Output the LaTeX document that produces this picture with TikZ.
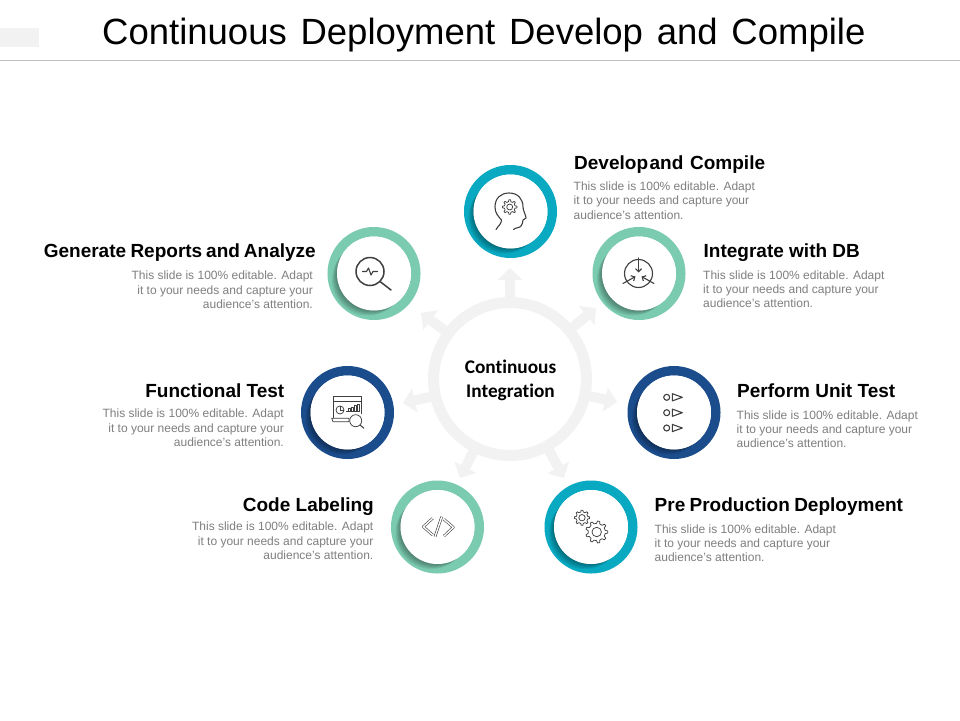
\documentclass[tikz,border=0pt]{standalone}
\usepackage{fontspec}
\setmainfont{Liberation Sans}
\newfontfamily\carlito[Ligatures={NoCommon,NoContextual}]{Carlito}
\usetikzlibrary{arrows.meta,calc}
\definecolor{teal}{HTML}{08A9C1}
\definecolor{mint}{HTML}{7BCBB0}
\definecolor{navy}{HTML}{1B4C8C}
\definecolor{bodygray}{HTML}{7F7F7F}
\definecolor{ringgray}{HTML}{F2F2F2}
\definecolor{icon}{HTML}{3F3F3F}
\tikzset{
  x=1pt,y=-1pt,
  heading/.style={font=\fontsize{19}{22}\selectfont\bfseries,text=black,inner sep=0pt,anchor=base west},
  headingr/.style={heading,anchor=base east},
  bodyl/.style={font=\fontsize{12}{14.1}\selectfont,text=bodygray,inner sep=0pt,anchor=north west,align=left},
  bodyr/.style={font=\fontsize{12}{14.1}\selectfont,text=bodygray,inner sep=0pt,anchor=north east,align=right},
  disc/.style={circle,fill=white,minimum size=74pt,inner sep=0pt},
  hoop/.style={circle,line width=9.5pt,minimum size=83.5pt,inner sep=0pt,outer sep=0pt},
  flow/.style={draw=ringgray,line width=10pt,shorten <=76pt,-{Triangle[width=24pt,length=12pt]}},
  ico/.style={draw=icon,line width=1.1pt,line cap=round,line join=round},
  icothin/.style={draw=icon,line width=.75pt,line join=round},
}
\newcommand{\stepring}[4]{%
  \node[hoop,draw=#4] (#1h) at (#2,#3) {};
  \begin{scope}
    \clip (#2,#3) circle (46.5pt);
    \foreach \d in {1,...,6}
      \fill[black,opacity=.07] ($(#2,#3)+(-\d,\d)$) circle (36pt);
  \end{scope}
  \node[disc] (#1) at (#2,#3) {};
}
\newcommand{\gearicon}[5]{% x y outer inner teeth
  \draw[icothin] ($(#1,#2)+(270/#5*.95:#4)$)
    \foreach \k [evaluate=\k as \a using \k*360/#5] in {1,...,#5} {
     -- ($(#1,#2)+(\a-90/#5*.55:#3)$) -- ($(#1,#2)+(\a+90/#5*.55:#3)$)
     -- ($(#1,#2)+(\a+90/#5*1.15:#4)$) -- ($(#1,#2)+(\a+270/#5*.95:#4)$)
  } -- cycle;
  \draw[icothin] (#1,#2) circle ({#4*.55pt});
}
\begin{document}
\begin{tikzpicture}
\useasboundingbox (0,0) rectangle (960,720);
\fill[white] (0,0) rectangle (960,720);
% header
\fill[ringgray] (0,28) rectangle (39,47);
\draw[color=black!25,line width=1pt] (0,60.5) -- (960,60.5);
\node[font=\fontsize{36.5}{40}\selectfont,text=black,inner sep=0pt,anchor=base west] (title) at (102,44) {Continuous\hspace{.1em} Deployment\hspace{.1em} Develop\hspace{.1em} and\hspace{.1em} Compile};
% centre hub
\node[circle,draw=ringgray,line width=11pt,minimum size=153pt,inner sep=0pt,outer sep=0pt] (hub) at (510,379) {};
\coordinate (ta) at (510,268);
\coordinate (tb) at (596,308);
\coordinate (tc) at (617,402);
\coordinate (td) at (564,478);
\coordinate (te) at (460,478);
\coordinate (tf) at (403,403);
\coordinate (tg) at (421,313);
\foreach \t in {ta,tb,tc,td,te,tf,tg} \draw[flow] (hub.center) -- (\t);
\node[font=\carlito\fontsize{19.3}{24}\selectfont\bfseries,text=black,align=center,inner sep=0pt] (hubtext) at (510.5,380) {Continuous\\Integration};
% rings
\stepring{dev}{510.5}{211.5}{teal}
\stepring{intg}{639}{273.5}{mint}
\stepring{unit}{674}{412.5}{navy}
\stepring{prod}{591}{527}{teal}
\stepring{code}{437.5}{527}{mint}
\stepring{func}{347.5}{412.5}{navy}
\stepring{rep}{374}{273.5}{mint}
% icon: head and gear
\draw[ico] (496,229.5) .. controls (498,226) and (501.5,224) .. (501.5,220)
  .. controls (498,216) and (495,213) .. (495,207)
  .. controls (495,198) and (501,193) .. (509,193)
  .. controls (518,193) and (523,199) .. (523,207)
  .. controls (523,211) and (526,215) .. (526,218)
  -- (523,220) .. controls (523,223) and (522,224) .. (521,226)
  .. controls (520,228) and (515,227.5) .. (513.5,229.5);
\gearicon{509.7}{207}{7.3}{5.4}{8}
% icon: arrows in a circle
\draw[ico] (638.5,273.5) circle (14pt);
\draw[ico,-{Straight Barb[length=3pt,width=6pt]}] (638.5,258) -- (638.5,272.5);
\draw[ico,-{Straight Barb[length=3pt,width=6pt]}] (623,283.5) -- (635.5,276.5);
\draw[ico,-{Straight Barb[length=3pt,width=6pt]}] (654,283.5) -- (641.5,276.5);
% icon: magnifier with pulse
\draw[ico,line width=1.5pt] (370,271.5) circle (14pt);
\draw[ico,line width=1.5pt] (380,281.5) -- (391,290);
\draw[ico] (362.5,271.5) -- (366.5,271.5) -- (368.5,268) -- (371,275) -- (373,271.5) -- (377.5,271.5);
% icon: three outlets
\foreach \y in {397.3,412.7,428} {
  \draw[ico] (666.7,\y) circle (3pt);
  \draw[ico] (672.3,\y-3.6) -- (682.3,\y) -- (672.3,\y+3.6) -- cycle;
}
% icon: gears
\gearicon{582}{517.7}{7.6}{5.8}{8}
\gearicon{596.7}{532}{11}{8.6}{9}
% icon: code
\foreach \p in {{(432.7,518.3) -- (423.3,526.7) -- (432.7,535)},{(444,519.3) -- (453.3,527.3) -- (444,536)},{(441.7,516.7) -- (435,536.7)}}
  \draw[draw=icon,line width=.6pt,double=white,double distance=1.4pt,line join=round] \p;
% icon: dashboard
\draw[icothin] (333.5,418) -- (333.5,396.7) -- (361.7,396.7) -- (361.7,414);
\draw[icothin] (333.5,401.7) -- (361.7,401.7);
\draw[icothin] (331.7,418.3) -- (349,418.3) -- (349,421.7) -- (333,421.7) -- cycle;
\draw[icothin] (340,410) circle (4pt);
\draw[icothin] (340,410) -- (340,406);
\draw[icothin] (340,410) -- (344,410);
\draw[icothin] (348,411) -- (348,408) -- (350,408) -- (350,411);
\draw[icothin] (351,411) -- (351,407) -- (353,407) -- (353,411);
\draw[icothin] (354,411) -- (354,405) -- (356,405) -- (356,411);
\draw[icothin] (357,411) -- (357,404) -- (359,404) -- (359,411);
\draw[icothin] (346,411) -- (360,411);
\draw[icothin,fill=white] (355.7,420.7) circle (6pt);
\draw[icothin,line width=1pt] (360,425) -- (364,428.3);
% labels
\newcommand{\bodytext}{This slide is 100\% editable. Adapt\\it to your needs and capture your\\audience's attention.}
\node[heading] (h1) at (574,169) {Develop\hspace{-.2em} and\hspace{.08em} Compile};
\node[bodyl] (b1) at (573.5,182) {\bodytext};
\node[heading] (h2) at (703.5,257) {Integrate with DB};
\node[bodyl] (b2) at (703,270.5) {\bodytext};
\node[heading] (h3) at (737,397) {Perform Unit Test};
\node[bodyl] (b3) at (736.5,410.5) {\bodytext};
\node[heading] (h4) at (654.5,511) {Pre\hspace{-.05em} Production\hspace{-.05em} Deployment};
\node[bodyl] (b4) at (654.5,524.5) {\bodytext};
\node[headingr] (h5) at (374,511) {Code Labeling};
\node[bodyr] (b5) at (373.5,522) {\bodytext};
\node[headingr] (h6) at (284.5,397) {Functional Test};
\node[bodyr] (b6) at (284,409) {\bodytext};
\node[headingr] (h7) at (316,257) {Generate\hspace{-.05em} Reports\hspace{-.07em} and\hspace{-.07em} Analyze};
\node[bodyr] (b7) at (313,271) {\bodytext};
\end{tikzpicture}
\end{document}
